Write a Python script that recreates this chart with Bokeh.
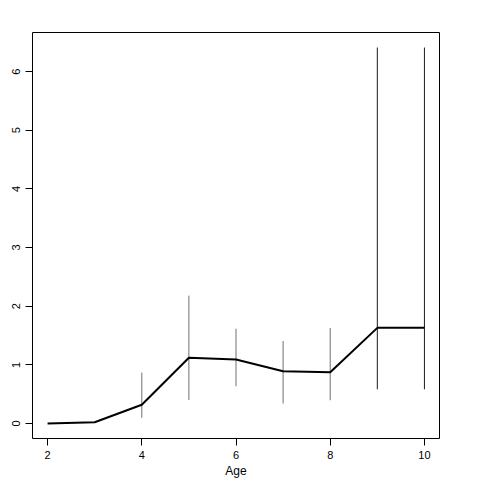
from bokeh.plotting import figure
from bokeh.models import Range1d, FixedTicker
from bokeh.embed import file_html
from bokeh.resources import INLINE

age = [2, 3, 4, 5, 6, 7, 8, 9, 10]
mean = [0.0, 0.02, 0.32, 1.12, 1.09, 0.89, 0.875, 1.63, 1.63]
err_x = [4, 5, 6, 7, 8, 9, 10]
err_lo = [0.097, 0.40, 0.634, 0.34, 0.396, 0.583, 0.583]
err_hi = [0.867, 2.18, 1.615, 1.405, 1.627, 6.41, 6.41]
err_col = ["#707070", "#707070", "#707070", "#707070", "#707070", "#1a1a1a", "#1a1a1a"]
x_ticks = [2, 4, 6, 8, 10]
y_ticks = [0, 1, 2, 3, 4, 5, 6]

xmin, xmax = min(age), max(age)
ymin, ymax = min(mean + err_lo), max(mean + err_hi)
dx = (xmax - xmin) * 0.04
dy = (ymax - ymin) * 0.04

p = figure(width=480, height=480, output_backend="svg", toolbar_location=None,
           x_range=Range1d(xmin - dx, xmax + dx), y_range=Range1d(ymin - dy, ymax + dy),
           min_border_left=32, min_border_top=32, min_border_right=41, min_border_bottom=41)
p.grid.visible = False
p.outline_line_color = "black"
p.outline_line_width = 1
p.background_fill_color = "white"
p.border_fill_color = "white"

for ax in (p.xaxis[0], p.yaxis[0]):
    ax.axis_line_color = None
    ax.major_tick_out = 7
    ax.major_tick_in = 0
    ax.minor_tick_line_color = None
    ax.major_tick_line_color = "black"
    ax.major_label_text_font = "Liberation Sans"
    ax.major_label_text_font_size = "11px"
    ax.major_label_text_color = "black"
    ax.major_label_standoff = 5
p.xaxis.ticker = FixedTicker(ticks=x_ticks)
p.yaxis.ticker = FixedTicker(ticks=y_ticks)
p.yaxis.major_label_orientation = "vertical"

p.xaxis.axis_label = "Age"
p.xaxis.axis_label_text_font = "Liberation Sans"
p.xaxis.axis_label_text_font_size = "12px"
p.xaxis.axis_label_text_font_style = "normal"
p.xaxis.axis_label_text_color = "black"
p.xaxis.axis_label_standoff = 2

p.segment(x0=err_x, y0=err_lo, x1=err_x, y1=err_hi, line_color=err_col, line_width=1)
p.line(age, mean, line_color="black", line_width=2)

open("out.html", "w").write(file_html(p, INLINE))
